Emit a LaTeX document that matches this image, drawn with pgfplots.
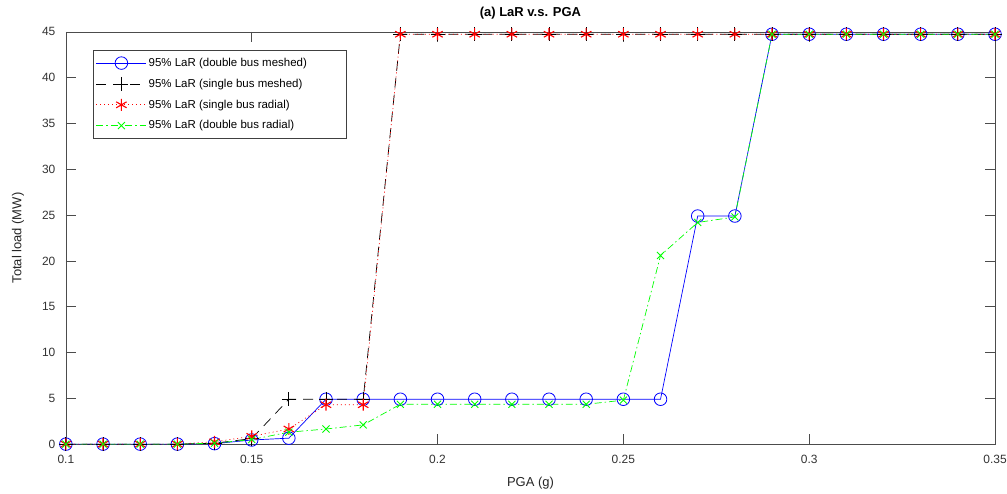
\documentclass[border=0pt]{standalone}
\usepackage{pgfplots}
\pgfplotsset{compat=1.18}
\usepackage{pgfplotstable}
\usepackage{fontspec}
\setmainfont{Liberation Sans}

\pgfplotstableread{
x     dbm    sbm    sbr    dbr
0.10  0      0      0      0
0.11  0      0      0      0
0.12  0      0      0      0
0.13  0      0      0      0
0.14  0.05   0.1    0.25   0.1
0.15  0.45   0.6    0.85   0.5
0.16  0.65   4.9    1.65   1.3
0.17  4.9    4.9    4.3    1.65
0.18  4.9    4.9    4.3    2.1
0.19  4.9    44.75  44.75  4.35
0.20  4.9    44.75  44.75  4.35
0.21  4.9    44.75  44.75  4.35
0.22  4.9    44.75  44.75  4.35
0.23  4.9    44.75  44.75  4.35
0.24  4.9    44.75  44.75  4.35
0.25  4.9    44.75  44.75  4.8
0.26  4.9    44.75  44.75  20.6
0.27  24.9   44.75  44.75  24.2
0.28  24.9   44.75  44.75  24.8
0.29  44.75  44.75  44.75  44.75
0.30  44.75  44.75  44.75  44.75
0.31  44.75  44.75  44.75  44.75
0.32  44.75  44.75  44.75  44.75
0.33  44.75  44.75  44.75  44.75
0.34  44.75  44.75  44.75  44.75
0.35  44.75  44.75  44.75  44.75
}\lardata

\definecolor{mblue}{RGB}{0,0,255}
\definecolor{mred}{RGB}{255,0,0}
\definecolor{mgreen}{RGB}{0,255,0}

\begin{document}
\begin{tikzpicture}
\begin{axis}[
  scale only axis,
  width=931bp,
  height=413bp,
  xmin=0.1, xmax=0.35,
  ymin=0, ymax=45,
  xtick={0.1,0.15,0.2,0.25,0.3,0.35},
  ytick={0,5,...,45},
  xticklabel style={/pgf/number format/fixed, yshift=-8bp},
  yticklabel style={xshift=-7bp},
  /pgf/number format/assume math mode=true,
  tick align=inside,
  major tick length=10bp,
  axis line style={black!70, line width=0.6bp},
  tick style={black!70, line width=0.6bp},
  tick label style={font=\fontsize{12bp}{14bp}\selectfont, text=black!80},
  title={(a) LaR v.s. PGA},
  title style={at={(rel axis cs:0.5,1)}, anchor=center, yshift=13bp,
    font=\fontsize{13bp}{15bp}\selectfont\bfseries},
  xlabel={PGA (g)},
  xlabel style={at={(rel axis cs:0.5,0)}, anchor=center, yshift=-39bp,
    font=\fontsize{13bp}{15bp}\selectfont, text=black!85},
  ylabel={Total load (MW)},
  ylabel style={at={(rel axis cs:0,0.5)}, anchor=center, yshift=48bp,
    font=\fontsize{13bp}{15bp}\selectfont, text=black!85},
  legend style={
    at={(rel axis cs:0,1)}, anchor=north west, xshift=27bp, yshift=-18bp,
    draw=black!75, line width=0.6bp,
    font=\fontsize{11.5bp}{13bp}\selectfont,
    row sep=7bp, inner xsep=3bp, inner ysep=6bp,
    cells={anchor=west},
  },
  legend image code/.code={%
    \draw[mark repeat=2, mark phase=2] plot coordinates {(0bp,0bp) (25bp,0bp) (50bp,0bp)};
  },
]
\addplot[mblue, line width=0.7bp, mark=o, mark size=6.3bp, mark options={solid, line width=0.8bp}]
  table[x=x, y=dbm] {\lardata};
\addlegendentry{95\% LaR (double bus meshed)\rule{34bp}{0pt}}
\addplot[black, line width=0.7bp, dash pattern=on 10bp off 7bp, mark=+, mark size=7bp, mark options={solid, line width=0.8bp}]
  table[x=x, y=sbm] {\lardata};
\addlegendentry{95\% LaR (single bus meshed)}
\addplot[mred, line width=0.7bp, dash pattern=on 1bp off 3bp, mark=asterisk, mark size=6bp, mark options={solid, line width=1.1bp}]
  table[x=x, y=sbr] {\lardata};
\addlegendentry{95\% LaR (single bus radial)}
\addplot[mgreen, line width=0.7bp, dash pattern=on 7bp off 3bp on 1.5bp off 3bp, mark=x, mark size=5bp, mark options={solid, line width=0.9bp}]
  table[x=x, y=dbr] {\lardata};
\addlegendentry{95\% LaR (double bus radial)}
\coordinate (sw) at (rel axis cs:0,0);
\coordinate (ne) at (rel axis cs:1,1);
\end{axis}
\pgfresetboundingbox
\path[use as bounding box] ([xshift=-66bp,yshift=-49bp]sw) rectangle ([xshift=12bp,yshift=32bp]ne);
\end{tikzpicture}
\end{document}
